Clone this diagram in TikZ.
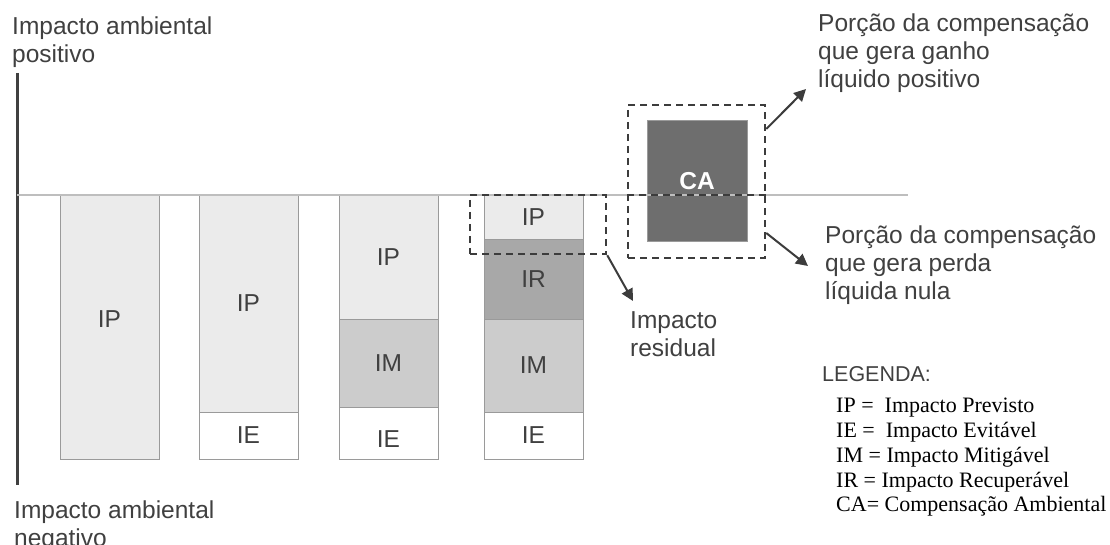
\documentclass[tikz,border=0pt]{standalone}
\usepackage{fontspec}
\setmainfont{Liberation Sans}
\newfontfamily\legendfont{Liberation Serif}
\usetikzlibrary{arrows.meta}
\definecolor{txtgray}{HTML}{404040}
\definecolor{segborder}{HTML}{9A9A9A}
\definecolor{ipfill}{HTML}{EBEBEB}
\definecolor{imfill}{HTML}{CCCCCC}
\definecolor{irfill}{HTML}{A8A8A8}
\definecolor{cafill}{HTML}{6E6E6E}
\definecolor{hline}{HTML}{BEBEBE}
\definecolor{dashcol}{HTML}{3C3C3C}
\tikzset{
  seg/.style={draw=segborder, line width=1pt, minimum width=99pt, inner sep=0pt,
    text=txtgray, font=\fontsize{24.5}{28}\selectfont},
  dbox/.style={draw=dashcol, line width=2.5pt, dash pattern=on 7pt off 5pt, inner sep=0pt},
  dline/.style={draw=dashcol, line width=2.5pt, dash pattern=on 7pt off 5pt},
  arr/.style={draw=dashcol, line width=2pt, -{Triangle[length=12pt,width=12pt]}},
  lbl/.style={anchor=north west, inner sep=0pt, align=left, text=txtgray,
    font=\fontsize{24.5}{28}\selectfont},
}
\begin{document}
\begin{tikzpicture}[x=1pt,y=-1pt]
\useasboundingbox (0,0) rectangle (1110,545);
% axis labels
\node[lbl] (toplbl) at (12,17) {Impacto ambiental\\positivo};
\node[lbl] (botlbl) at (14,501) {Impacto ambiental\\negativo};
% vertical axis
\coordinate (axtop) at (17,73);
\coordinate (axbot) at (17,485);
\draw[txtgray, line width=3pt] (axtop) -- (axbot);
% bar 1
\node[seg, fill=ipfill, minimum height=264pt, label={[text=txtgray, font=\fontsize{24.5}{28}\selectfont, yshift=8pt]center:IP}] (b1ip) at (109.5,327) {};
% bar 2
\node[seg, fill=ipfill, minimum height=217pt] (b2ip) at (248.5,303.5) {IP};
\node[seg, fill=white, minimum height=47pt] (b2ie) at (248.5,435.5) {IE};
% bar 3
\node[seg, fill=ipfill, minimum height=124pt] (b3ip) at (388.5,257) {IP};
\node[seg, fill=imfill, minimum height=88pt] (b3im) at (388.5,363) {IM};
\node[seg, fill=white, minimum height=52pt, label={[text=txtgray, font=\fontsize{24.5}{28}\selectfont, yshift=-6pt]center:IE}] (b3ie) at (388.5,433) {};
% bar 4
\node[seg, fill=ipfill, minimum height=45pt] (b4ip) at (533.5,217.5) {IP};
\node[seg, fill=irfill, minimum height=79pt] (b4ir) at (533.5,279.5) {IR};
\node[seg, fill=imfill, minimum height=93pt] (b4im) at (533.5,365.5) {IM};
\node[seg, fill=white, minimum height=47pt] (b4ie) at (533.5,435.5) {IE};
% CA box
\node[draw=segborder, line width=1pt, fill=cafill, minimum width=100pt, minimum height=121pt,
  inner sep=0pt, text=white, font=\fontsize{24.5}{28}\selectfont\bfseries] (ca) at (697,181.5) {CA};
% horizontal baseline
\coordinate (hlstart) at (17,195);
\coordinate (hlend) at (908,195);
\draw[hline, line width=2pt] (hlstart) -- (hlend);
% dashed boxes
\node[dbox, minimum width=136pt, minimum height=59pt] (resbox) at (538,224.5) {};
\node[dbox, minimum width=137pt, minimum height=153pt] (cabox) at (696.5,181.5) {};
\draw[dline] (cabox.west |- hlstart) -- (cabox.east |- hlstart);
% right texts
\node[lbl] (gaintxt) at (818,14) {Porção da compensação\\que gera ganho\\líquido positivo};
\node[lbl] (nulltxt) at (825,226) {Porção da compensação\\que gera perda\\líquida nula};
\node[lbl] (restxt) at (630,311) {Impacto\\residual};
% arrows
\coordinate (gaintip) at (806,89);
\coordinate (nulltip) at (808,266);
\coordinate (restip) at (633,301);
\draw[arr] (cabox.east |- 0,129) -- (gaintip);
\draw[arr] (cabox.east |- 0,233) -- (nulltip);
\draw[arr] (resbox.south east) -- (restip);
% legend
\node[anchor=north west, inner sep=0pt, text=txtgray, font=\fontsize{21.5}{24}\selectfont] (legtitle) at (822,366) {LEGENDA:};
\node[anchor=north west, inner sep=0pt, align=left, font=\legendfont\fontsize{22}{24.8}\selectfont] (legend) at (836,398)
  {IP =\ \ Impacto Previsto\\IE =\ \ Impacto Evitável\\IM = Impacto Mitigável\\IR = Impacto Recuperável\\CA= Compensação Ambiental};
\end{tikzpicture}
\end{document}
